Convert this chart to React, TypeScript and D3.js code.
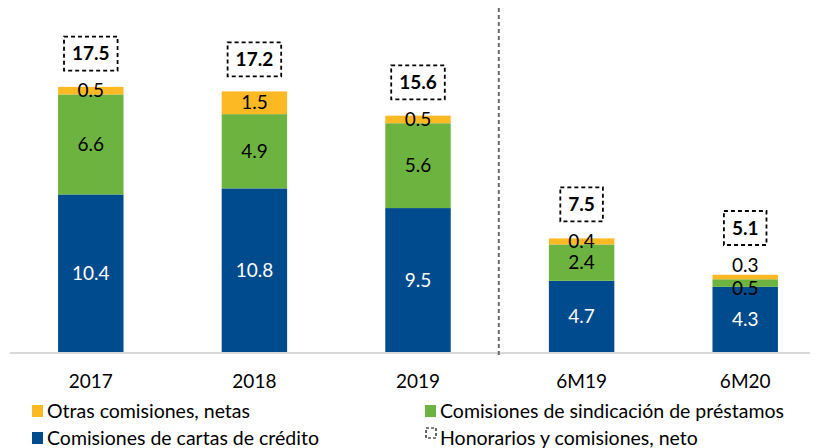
import React, { useEffect, useRef } from 'react'
import * as d3 from 'd3'

// categories and series
const categories = ['2017', '2018', '2019', '6M19', '6M20']
const cartasCredito = [10.4, 10.8, 9.5, 4.7, 4.3]
const sindicacion = [6.6, 4.9, 5.6, 2.4, 0.5]
const otras = [0.5, 1.5, 0.5, 0.4, 0.3]
const totales = [17.5, 17.2, 15.6, 7.5, 5.1]

const seriesNames = ['Comisiones de cartas de crédito', 'Comisiones de sindicación de préstamos', 'Otras comisiones, netas']
const colors = ['#004B8D', '#6DB33F', '#FDB924']
const labelColors = ['#ffffff', '#000000', '#000000']

const W = 819
const H = 448
const FONT = 'Lato, "Open Sans", sans-serif'

export default function App() {
  const svgRef = useRef<SVGSVGElement>(null)

  useEffect(() => {
    const svg = d3.select(svgRef.current)
    svg.selectAll('*').remove()

    const baseline = 352
    const x = d3.scaleBand().domain(categories).range([9, 827])
      .paddingInner(0.6).paddingOuter(0.3)
    const y = d3.scaleLinear().domain([0, 20]).range([baseline, 49])

    const rows = categories.map((c, i) => ({ cat: c, v: [cartasCredito[i], sindicacion[i], otras[i]], total: totales[i] }))
    const stacked = d3.stack<any>().keys(['0', '1', '2']).value((d, k) => d.v[+k])(rows)

    // axis line
    svg.append('line')
      .attr('x1', 10).attr('x2', 810)
      .attr('y1', baseline + 1).attr('y2', baseline + 1)
      .attr('stroke', '#D9D9D9').attr('stroke-width', 2)

    // separator between years and half-years
    const sepX = ((x('2019') as number) + (x('6M19') as number) + x.bandwidth()) / 2 - 1
    svg.append('line')
      .attr('x1', sepX).attr('x2', sepX)
      .attr('y1', 8).attr('y2', 356)
      .attr('stroke', '#6b6b6b').attr('stroke-width', 2)
      .attr('stroke-dasharray', '4,3')

    // bars
    stacked.forEach((layer, si) => {
      svg.append('g').selectAll('rect')
        .data(layer)
        .enter().append('rect')
        .attr('x', d => x(d.data.cat) as number)
        .attr('width', x.bandwidth())
        .attr('y', d => y(d[1]))
        .attr('height', d => y(d[0]) - y(d[1]))
        .attr('fill', colors[si])
    })

    // segment labels
    const topLabelY: number[] = []
    stacked.forEach((layer, si) => {
      layer.forEach((d, i) => {
        let cy = (y(d[0]) + y(d[1])) / 2
        const h = y(d[0]) - y(d[1])
        // tiny top segment sitting on a tiny middle one: spread the two labels apart
        if (si === 2 && h < 10 && y(stacked[1][i][0]) - y(stacked[1][i][1]) < 10) cy -= 12
        if (si === 1 && h < 10) cy += 5
        if (si === 2) topLabelY[i] = cy
        svg.append('text')
          .attr('x', (x(d.data.cat) as number) + x.bandwidth() / 2)
          .attr('y', cy)
          .attr('dy', '0.35em')
          .attr('text-anchor', 'middle')
          .attr('font-family', FONT)
          .attr('font-size', 19)
          .attr('fill', labelColors[si])
          .text(d.data.v[si].toFixed(1))
      })
    })

    // total boxes
    rows.forEach((r, i) => {
      const cx = (x(r.cat) as number) + x.bandwidth() / 2
      const cy = Math.min(y(r.total) - 32, topLabelY[i] - 37)
      const g = svg.append('g')
      const t = g.append('text')
        .attr('x', cx).attr('y', cy).attr('dy', '0.35em')
        .attr('text-anchor', 'middle')
        .attr('font-family', FONT)
        .attr('font-size', 19)
        .attr('font-weight', 'bold')
        .attr('fill', '#000')
        .text(r.total.toFixed(1))
      const tw = (t.node() as SVGTextElement).getComputedTextLength()
      g.insert('rect', 'text')
        .attr('x', cx - tw / 2 - 8).attr('y', cy - 17)
        .attr('width', tw + 16).attr('height', 34)
        .attr('fill', 'none')
        .attr('stroke', '#000').attr('stroke-width', 1.8)
        .attr('stroke-dasharray', '4,3')
    })

    // x axis labels
    const xAxis = svg.append('g')
      .attr('transform', `translate(0,${baseline})`)
      .call(d3.axisBottom(x).tickSize(0).tickPadding(23))
    xAxis.select('.domain').remove()
    xAxis.selectAll('text')
      .attr('font-family', FONT)
      .attr('font-size', 19)
      .attr('fill', '#000')

    // legend
    const legend = [
      { name: seriesNames[2], color: colors[2], lx: 32, ly: 411, dashed: false },
      { name: seriesNames[1], color: colors[1], lx: 425, ly: 411, dashed: false },
      { name: seriesNames[0], color: colors[0], lx: 32, ly: 438, dashed: false },
      { name: 'Honorarios y comisiones, neto', color: 'none', lx: 425, ly: 438, dashed: true },
    ]
    legend.forEach(l => {
      const g = svg.append('g').attr('transform', `translate(${l.lx},${l.ly})`)
      g.append('rect')
        .attr('x', l.dashed ? 1 : 0).attr('y', l.dashed ? -10 : -6)
        .attr('width', l.dashed ? 10 : 11).attr('height', l.dashed ? 10 : 12)
        .attr('fill', l.color)
        .attr('stroke', l.dashed ? '#000' : 'none')
        .attr('stroke-width', 1.2)
        .attr('stroke-dasharray', l.dashed ? '3,2' : null)
      g.append('text')
        .attr('x', 15).attr('y', 0).attr('dy', '0.35em')
        .attr('font-family', FONT)
        .attr('font-size', 19.5)
        .attr('fill', '#000')
        .text(l.name)
    })
  }, [])

  return (
    <svg ref={svgRef} width={W} height={H}
      style={{ position: 'absolute', left: 0, top: 0, background: '#fff' }} />
  )
}
